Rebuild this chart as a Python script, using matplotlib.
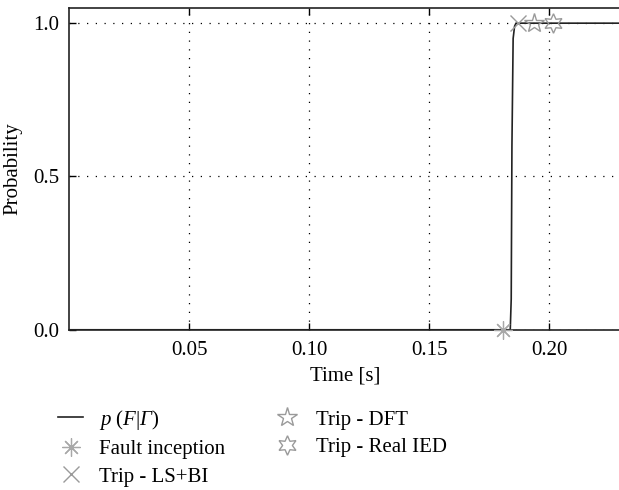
import numpy as np
import matplotlib
matplotlib.use("Agg")
from matplotlib import pyplot as plt

plt.rcParams['font.family'] = 'Liberation Serif'
plt.rcParams['mathtext.fontset'] = 'custom'
plt.rcParams['mathtext.rm'] = 'Liberation Serif'
plt.rcParams['mathtext.it'] = 'Liberation Serif:italic'
plt.rcParams['mathtext.sf'] = 'Liberation Serif:italic'

# probability curve p(F|Gamma)
time = [0.0, 0.1838, 0.1842, 0.1845, 0.1850, 0.1856, 0.1862, 0.23]
prob = [0.0, 0.0, 0.10, 0.60, 0.95, 0.99, 1.0, 1.0]

# event markers
t_fault = 0.1808
t_lsbi = 0.1871
t_dft = 0.1937
t_ied = 0.2017
p_fault = 0.0
p_trip = 1.0

xticks = [0.05, 0.10, 0.15, 0.20]
yticks = [0.0, 0.5, 1.0]

fig = plt.figure(figsize=(6.19, 4.9), dpi=100)
ax = fig.add_axes([0.1115, 0.327, 0.892, 0.657])

grey = '#9a9a9a'
ax.plot(time, prob, '-', color='#222222', lw=1.2, label=r'$p\ (F|\mathsf{\Gamma})$', zorder=3)
ax.plot([t_fault], [p_fault], linestyle='none', marker=(8, 2, 0), ms=13, mew=0.9,
        color='#a8a8a8', label='Fault inception', zorder=4, clip_on=False)
ax.plot([t_lsbi], [p_trip], linestyle='none', marker='x', ms=11, mew=1.0,
        color=grey, label='Trip - LS+BI', zorder=4)
ax.plot([t_dft], [p_trip], linestyle='none', marker='*', ms=15, mew=1.0,
        mfc='none', mec=grey, label='Trip - DFT', zorder=4)
ax.plot([t_ied], [p_trip], linestyle='none', marker=(6, 1, 0), ms=14, mew=1.0,
        mfc='none', mec=grey, label='Trip - Real IED', zorder=4)

ax.set_xlim(0, 0.23)
ax.set_ylim(0, 1.05)
ax.set_xticks(xticks)
ax.set_xticklabels(['%.2f' % v for v in xticks])
ax.set_yticks(yticks)
ax.set_yticklabels(['%.1f' % v for v in yticks])
ax.tick_params(direction='in', length=5, width=1, labelsize=15, top=True, right=False)
ax.tick_params(axis='x', pad=8)
ax.tick_params(axis='y', pad=7)
ax.grid(True, color='black', linestyle=(0, (1, 6)), linewidth=0.9)
for s in ax.spines.values():
    s.set_linewidth(1.2)
    s.set_color('#222222')

ax.set_xlabel('Time [s]', fontsize=15, labelpad=5)
ax.set_ylabel('Probability', fontsize=15, labelpad=8)

fig.legend(loc='upper left', bbox_to_anchor=(0.094, 0.168), ncol=2, frameon=False,
           fontsize=15, handlelength=1.2, handletextpad=0.75, columnspacing=2.4,
           labelspacing=0.38, numpoints=1, borderaxespad=0, borderpad=0)

fig.savefig('out.png', dpi=100)
